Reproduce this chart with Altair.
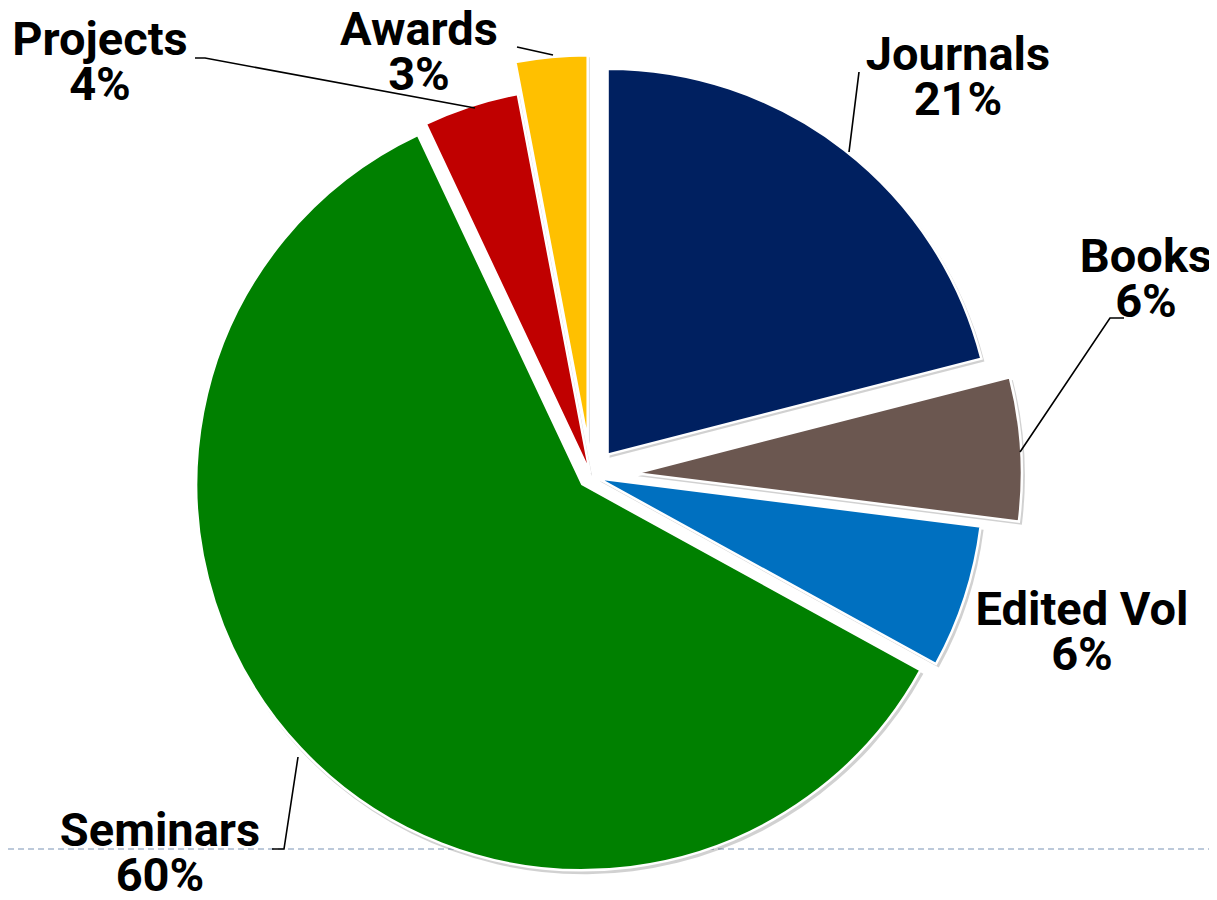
import altair as alt
import pandas as pd

# ---- data ----
categories = ["Journals", "Books", "Edited Vol", "Seminars", "Projects", "Awards"]
percents = [21, 6, 6, 60, 4, 3]
colors = ["#002060", "#6B5750", "#0070C0", "#008000", "#C00000", "#FFC000"]

# ---- layout (pixels, chart coordinates) ----
W, H = 1201, 884
CX, CY = 583, 468
R = 386
explode = [27, 45, 7, 12, 3, 35]
label_x = [950, 1138, 1074, 152, 92, 411]
label_y = [62, 264, 617, 838, 47, 37]
leader_pts = {
    "Journals": [(841, 144), (851, 64)],
    "Books": [(1012, 444), (1102, 310), (1116, 310)],
    "Seminars": [(290, 749), (276, 841), (264, 841)],
    "Projects": [(467, 100), (197, 50), (187, 50)],
    "Awards": [(545, 47), (509, 39)],
}

slices = pd.DataFrame({
    "category": categories,
    "percent": percents,
    "order": list(range(len(categories))),
    "explode": explode,
})

base = alt.Chart(slices).transform_window(
    cum="sum(percent)", sort=[alt.SortField("order")], frame=[None, 0]
).transform_joinaggregate(
    total="sum(percent)"
).transform_calculate(
    t0="2*PI*(datum.cum - datum.percent)/datum.total",
    t1="2*PI*datum.cum/datum.total",
).transform_calculate(
    mid="(datum.t0 + datum.t1)/2"
).transform_calculate(
    px=f"{CX} + datum.explode*sin(datum.mid)",
    py=f"{CY} - datum.explode*cos(datum.mid)",
)

shadow = base.transform_calculate(
    sx="datum.px + 2", sy="datum.py + 3"
).mark_arc(outerRadius=R + 1, color="#000000", opacity=0.18).encode(
    theta=alt.Theta("t0:Q", scale=None),
    theta2="t1:Q",
    x=alt.X("sx:Q", scale=None),
    y=alt.Y("sy:Q", scale=None),
)

arcs = base.mark_arc(outerRadius=R, stroke="white", strokeWidth=2.5).encode(
    theta=alt.Theta("t0:Q", scale=None),
    theta2="t1:Q",
    x=alt.X("px:Q", scale=None),
    y=alt.Y("py:Q", scale=None),
    color=alt.Color("category:N", scale=alt.Scale(domain=categories, range=colors), legend=None),
)

labels_df = pd.DataFrame({
    "category": categories,
    "percent": percents,
    "lx": label_x,
    "ly": label_y,
})
labels = alt.Chart(labels_df).transform_calculate(
    txt="datum.category + '\\n' + datum.percent + '%'"
).mark_text(
    lineBreak="\n", font="Roboto", fontWeight="bold", fontSize=47,
    lineHeight=45, align="center", baseline="alphabetic", color="#000000",
).encode(
    x=alt.X("lx:Q", scale=None),
    y=alt.Y("ly:Q", scale=None),
    text="txt:N",
)

rows = []
for cat, pts in leader_pts.items():
    for i, (x, y) in enumerate(pts):
        rows.append({"category": cat, "seq": i, "x": x, "y": y})
leaders = alt.Chart(pd.DataFrame(rows)).mark_line(color="#000000", strokeWidth=1.6).encode(
    x=alt.X("x:Q", scale=None),
    y=alt.Y("y:Q", scale=None),
    detail="category:N",
    order="seq:Q",
)

dashed = alt.Chart(pd.DataFrame({"a": [0]})).mark_rule(
    color="#A6B8CE", strokeWidth=1.5, strokeDash=[6, 4]
).encode(x=alt.value(0), x2=alt.value(W), y=alt.value(841))

chart = alt.layer(dashed, shadow, arcs, leaders, labels).properties(
    width=W, height=H, padding=0, autosize="none", background="white"
).configure_view(strokeWidth=0)

chart.save("out.html", embed_options={"renderer": "svg", "actions": False})
